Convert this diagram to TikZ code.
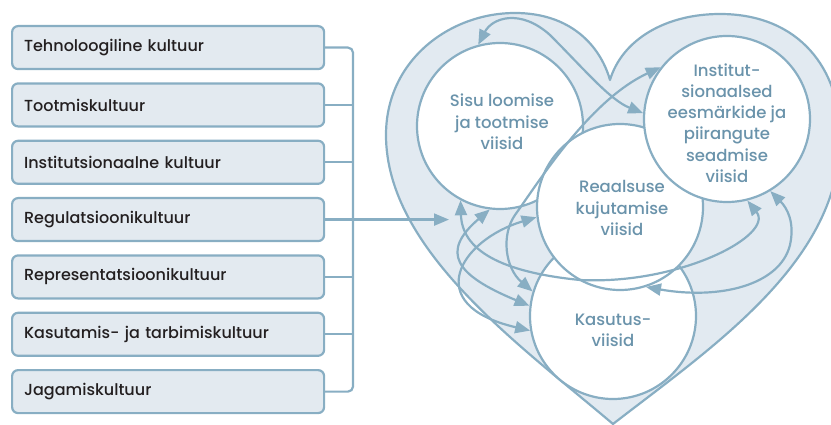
\documentclass[tikz,border=0pt]{standalone}
\usepackage{fontspec}
\setmainfont{Poppins}[UprightFont=* Medium]
\usetikzlibrary{arrows.meta}

\definecolor{edge}{HTML}{88AEC3}
\definecolor{band}{HTML}{E2EAF1}
\definecolor{boxfill}{HTML}{E3EAF0}
\definecolor{ctext}{HTML}{6A93AB}
\definecolor{btext}{HTML}{231F20}

\begin{document}
\begin{tikzpicture}[x=1pt,y=-1pt,
  culture/.style={draw=edge, fill=boxfill, line width=2.2pt, rounded corners=6pt,
    anchor=north west, text width=288pt, inner xsep=12pt, inner ysep=0pt,
    minimum height=43pt, font=\fontsize{16}{19}\selectfont, text=btext},
  sphere/.style={circle, draw=edge, fill=white, line width=2.2pt,
    minimum size=166pt, inner sep=0pt},
  waytext/.style={align=center, text=ctext, font=\fontsize{16.5}{21.3}\selectfont},
  link/.style={draw=edge, line width=2.2pt},
  flow/.style={link, {Triangle[length=15pt,width=12pt]}-{Triangle[length=15pt,width=12pt]}},
  feed/.style={link, -{Triangle[length=15pt,width=12pt]}}]

\useasboundingbox (0,0) rectangle (831,425);

% heart-shaped band
\path[draw=edge, fill=band, line width=2.2pt, line join=round]
  (613,424) .. controls (520,345) and (386,250) .. (386,135)
  .. controls (386,60) and (450,13) .. (515,13)
  .. controls (570,13) and (600,45) .. (610,80)
  .. controls (622,40) and (665,14) .. (720,14)
  .. controls (800,14) and (840,70) .. (840,135)
  .. controls (842,260) and (715,345) .. (613,424) -- cycle;

% culture boxes
\node[culture] (b1) at (11,25)     {Tehnoloogiline kultuur};
\node[culture] (b2) at (11,82.33)  {Tootmiskultuur};
\node[culture] (b3) at (11,139.67) {Institutsionaalne kultuur};
\node[culture] (b4) at (11,197)    {Regulatsioonikultuur};
\node[culture] (b5) at (11,254.33) {Representatsioonikultuur};
\node[culture] (b6) at (11,311.67) {Kasutamis- ja tarbimiskultuur};
\node[culture] (b7) at (11,369)    {Jagamiskultuur};

% bracket collecting the boxes
\coordinate (bus) at (353,0);
\coordinate (regin) at (449,0);
\draw[link, rounded corners=5pt] (b1.east) -- (b1.east -| bus) -- (b7.east -| bus) -- (b7.east);
\foreach \b in {b2,b3,b5,b6} \draw[link] (\b.east) -- (\b.east -| bus);
\draw[feed] (b4.east) -- (b4.east -| regin);

% the four ways
\node[sphere] (kas)   at (613,316) {};
\node[sphere] (sisu)  at (500,126) {};
\node[sphere] (reaal) at (620,207) {};
\node[sphere] (inst)  at (727,119) {};

% mutual influences
\draw[flow] (sisu.105) .. controls (492,18) and (520,8) .. (550,35)
  .. controls (585,70) and (610,100) .. (inst.176);
\draw[flow] (kas.163) .. controls (505,268) and (501,235) .. (515,215)
  .. controls (540,180) and (590,100) .. (inst.142);
\draw[flow] (sisu.263) .. controls (440,252) and (455,275) .. (kas.173);
\draw[flow] (reaal.187) .. controls (460,240) and (420,305) .. (kas.190);
\draw[flow] (sisu.242) .. controls (462,250) and (500,272) .. (580,280)
  .. controls (680,285) and (775,235) .. (inst.284);
\draw[flow] (reaal.288) .. controls (720,300) and (780,285) .. (790,245)
  .. controls (795,222) and (787,208) .. (inst.301);

% circle captions
\node[waytext] (tsisu)  at (502,122) {Sisu loomise\\ja tootmise\\viisid};
\node[waytext] (treaal) at (622,208) {Reaalsuse\\kujutamise\\viisid};
\node[waytext] (tinst)  at (727,123) {Institut-\\sionaalsed\\eesmärkide ja\\piirangute\\seadmise\\viisid};
\node[waytext] (tkas)   at (613,330) {Kasutus-\\viisid};
\end{tikzpicture}
\end{document}
